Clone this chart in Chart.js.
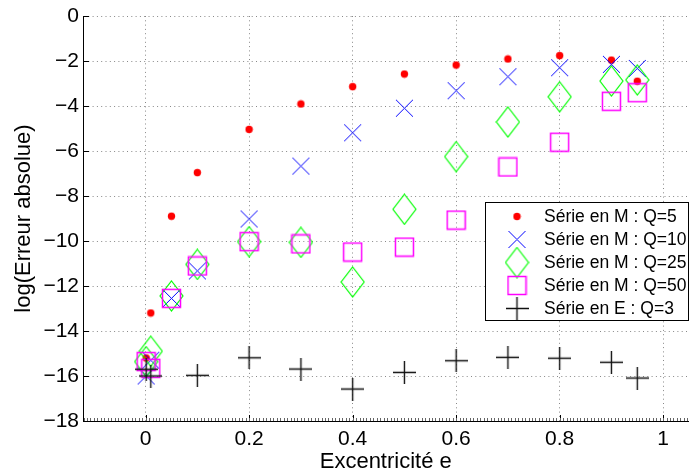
<!DOCTYPE html>
<html>
<head>
<meta charset="utf-8">
<script src="https://cdn.jsdelivr.net/npm/chart.js@4"></script>
<style>
  body { margin: 0; background: #fff; }
  #wrap { width: 689px; height: 475px; }
</style>
</head>
<body>
<div id="wrap"><canvas id="chart" width="689" height="475"></canvas></div>
<script>
// valeurs
const eM = [0.001, 0.01, 0.05, 0.1, 0.2, 0.3, 0.4, 0.5, 0.6, 0.7, 0.8, 0.9, 0.95];
const q5 = [-15.2, -13.2, -8.9, -6.96, -5.04, -3.91, -3.14, -2.58, -2.18, -1.91, -1.76, -1.96, -2.9];
const q10 = [-16.0, -15.3, -12.55, -11.33, -9.02, -6.67, -5.19, -4.1, -3.32, -2.7, -2.3, -2.15, -2.33];
const q25 = [-15.36, -14.9, -12.44, -11.04, -10.03, -10.06, -11.82, -8.59, -6.25, -4.71, -3.59, -2.89, -2.84];
const q50 = [-15.36, -15.66, -12.55, -11.11, -10.03, -10.13, -10.49, -10.27, -9.07, -6.71, -5.61, -3.79, -3.41];
const eE = [0.001, 0.01, 0.1, 0.2, 0.3, 0.4, 0.5, 0.6, 0.7, 0.8, 0.9, 0.95];
const eQ3 = [-15.7, -16.0, -15.97, -15.19, -15.69, -16.58, -15.84, -15.32, -15.17, -15.21, -15.39, -16.09];

const labels = ["Série en M : Q=5", "Série en M : Q=10", "Série en M : Q=25", "Série en M : Q=50", "Série en E : Q=3"];
const xTicks = [0, 0.2, 0.4, 0.6, 0.8, 1];
const xTickLabels = ["0", "0.2", "0.4", "0.6", "0.8", "1"];
const yTicks = [0, -2, -4, -6, -8, -10, -12, -14, -16, -18];
const yTickLabels = ["0", "−2", "−4", "−6", "−8", "−10", "−12", "−14", "−16", "−18"];

const FONT = '"Liberation Sans", Arial, Helvetica, sans-serif';

// marqueurs dessinés façon Matlab
function marker(w, h, draw) {
  const c = document.createElement("canvas");
  c.width = w; c.height = h;
  const g = c.getContext("2d");
  draw(g);
  return c;
}
const mDot = marker(9, 9, g => {
  g.fillStyle = "#ff0000";
  g.beginPath(); g.arc(4.5, 4.5, 3.7, 0, Math.PI * 2); g.fill();
});
const mX = marker(19, 19, g => {
  g.strokeStyle = "#0000ff"; g.lineWidth = 1;
  g.beginPath(); g.moveTo(1, 1); g.lineTo(18, 18); g.moveTo(18, 1); g.lineTo(1, 18); g.stroke();
});
const mDiamond = marker(25, 32, g => {
  g.strokeStyle = "#00ff00"; g.lineWidth = 1.2;
  g.beginPath(); g.moveTo(12.5, 1); g.lineTo(24, 16); g.lineTo(12.5, 31); g.lineTo(1, 16); g.closePath(); g.stroke();
});
const mSquare = marker(21, 21, g => {
  g.strokeStyle = "#ff00ff"; g.lineWidth = 1.5;
  g.strokeRect(1.5, 1.5, 18, 18);
});
const mPlus = marker(23, 23, g => {
  g.strokeStyle = "#111"; g.lineWidth = 1.4;
  g.beginPath(); g.moveTo(0, 11.5); g.lineTo(23, 11.5); g.moveTo(11.5, 0); g.lineTo(11.5, 23); g.stroke();
});
const markers = [mDot, mX, mDiamond, mSquare, mPlus];

function pts(xs, ys) { return xs.map((x, i) => ({ x: x, y: ys[i] })); }

const series = [pts(eM, q5), pts(eM, q10), pts(eM, q25), pts(eM, q50), pts(eE, eQ3)];

const matlabAxes = {
  id: "matlabAxes",
  beforeDatasetsDraw(chart) {
    const { ctx, chartArea: a, scales: { x, y } } = chart;
    ctx.save();
    ctx.strokeStyle = "#000";
    ctx.lineWidth = 1;
    ctx.beginPath();
    xTicks.forEach(v => {
      const px = Math.round(x.getPixelForValue(v)) + 0.5;
      ctx.moveTo(px, a.bottom); ctx.lineTo(px, a.bottom - 6);
    });
    yTicks.forEach(v => {
      const py = Math.round(y.getPixelForValue(v)) + 0.5;
      ctx.moveTo(a.left, py); ctx.lineTo(a.left + 6, py);
    });
    ctx.stroke();
    // petites graduations le long de l'axe des x
    ctx.strokeStyle = "#666";
    ctx.beginPath();
    for (let v = 0; v <= 1.05; v += 0.2 / 30) {
      [v, -v].forEach(w => {
        if (w < x.min || w > x.max) return;
        const px = Math.round(x.getPixelForValue(w)) + 0.5;
        ctx.moveTo(px, a.bottom); ctx.lineTo(px, a.bottom - 3);
      });
    }
    ctx.stroke();
    ctx.restore();
  },
  afterDraw(chart) {
    const ctx = chart.ctx;
    ctx.save();
    ctx.fillStyle = "#fff";
    ctx.fillRect(485.5, 202.5, 203, 118);
    ctx.strokeStyle = "#000";
    ctx.lineWidth = 1;
    ctx.strokeRect(485.5, 202.5, 203, 118);
    const rows = [216.5, 239.5, 262.5, 285.5, 308.5];
    ctx.font = "17.5px " + FONT;
    ctx.fillStyle = "#000";
    ctx.textBaseline = "middle";
    labels.forEach((t, i) => {
      const m = markers[i];
      ctx.drawImage(m, 517 - m.width / 2, rows[i] - m.height / 2);
      ctx.fillText(t, 544, rows[i] + 1);
    });
    ctx.restore();
  }
};

new Chart(document.getElementById("chart"), {
  type: "scatter",
  data: {
    datasets: series.map((d, i) => ({
      label: labels[i],
      data: d,
      pointStyle: markers[i],
      pointRadius: 0.5,
      pointHoverRadius: 0.5,
      pointBorderWidth: 0,
      order: 5 - i,
      clip: false
    }))
  },
  options: {
    responsive: false,
    animation: false,
    events: [],
    layout: { padding: { top: 16, right: 0, left: 0, bottom: 0 } },
    plugins: { legend: { display: false }, tooltip: { enabled: false } },
    scales: {
      x: {
        type: "linear",
        min: -0.121,
        max: 1.049,
        afterBuildTicks: s => { s.ticks = xTicks.map(v => ({ value: v })); },
        afterFit: s => { s.height = 54; s.paddingLeft = 0; s.paddingRight = 0; },
        ticks: {
          callback: (v, i) => xTickLabels[i],
          font: { family: FONT, size: 21 },
          color: "#000",
          padding: 6,
          maxRotation: 0,
          autoSkip: false
        },
        grid: { color: "#888", lineWidth: 1, drawTicks: false },
        border: { display: true, color: "#000", width: 1, dash: [1, 3.3] },
        title: {
          display: true,
          text: "Excentricité e",
          font: { family: FONT, size: 22 },
          color: "#000",
          padding: { top: 0, bottom: 0 }
        }
      },
      y: {
        min: -18,
        max: 0,
        afterBuildTicks: s => { s.ticks = yTicks.map(v => ({ value: v })); },
        afterFit: s => { s.width = 83; s.paddingTop = 0; s.paddingBottom = 0; },
        ticks: {
          callback: (v, i) => yTickLabels[i],
          font: { family: FONT, size: 21 },
          color: "#000",
          padding: 4,
          autoSkip: false
        },
        grid: { color: "#888", lineWidth: 1, drawTicks: false },
        border: { display: true, color: "#000", width: 1, dash: [1, 3.3] },
        title: {
          display: true,
          text: "log(Erreur absolue)",
          font: { family: FONT, size: 22 },
          color: "#000",
          padding: { top: 11, bottom: 0 }
        }
      }
    }
  },
  plugins: [matlabAxes]
});
</script>
</body>
</html>
